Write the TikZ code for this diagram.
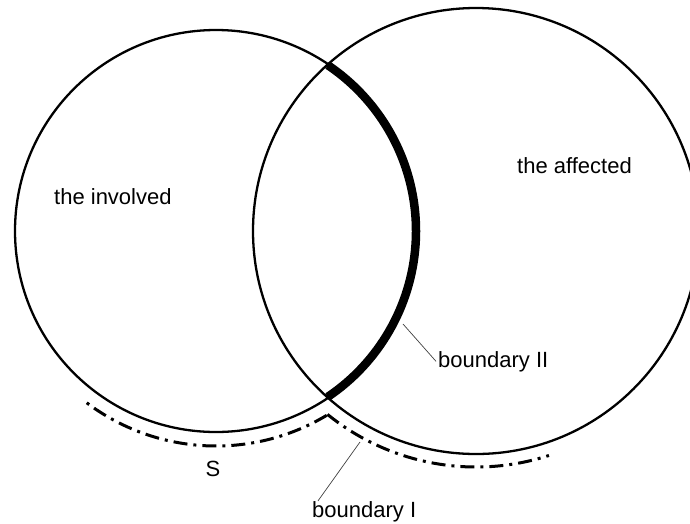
\documentclass[tikz,border=0pt]{standalone}
\usepackage{fontspec}
\setmainfont{Liberation Sans}
\begin{document}
\begin{tikzpicture}[x=1pt,y=-1pt,
  circ/.style={line width=2.3pt},
  thickarc/.style={line width=8.5pt},
  dashdot/.style={line width=3pt, dash pattern=on 14pt off 6pt on 3pt off 6pt},
  leader/.style={line width=0.7pt, black!75},
  lab/.style={inner sep=0pt, font=\fontsize{22}{26}\selectfont}]
\useasboundingbox (0,0) rectangle (690,523);
\clip (0,0) rectangle (690,523);
\coordinate (cL) at (216,231);
\coordinate (cR) at (476,231);
\draw[circ] (cL) circle[radius=201];
\draw[circ] (cR) circle[radius=223];
\draw[thickarc] (cL) ++(-56:200) arc[start angle=-56, end angle=56, radius=200];
\draw[dashdot] (cL) ++(59:215) arc[start angle=59, end angle=128.5, radius=215];
\draw[dashdot] (cR) ++(129:236) arc[start angle=129, end angle=72, radius=236];
\node[lab, anchor=base west] (inv) at (54,204) {the involved};
\node[lab, anchor=base west] (aff) at (517,173) {the affected};
\node[lab, anchor=base west] (b2) at (438,367) {boundary II};
\node[lab, anchor=base] (S) at (213,476) {S};
\node[lab, anchor=base west] (b1) at (312,517) {boundary I};
\coordinate (b2p) at (403,324);
\coordinate (b1p) at (360,442);
\draw[leader] (b2p) -- ([xshift=-2pt]b2.west);
\draw[leader] (b1p) -- ([xshift=6pt]b1.north west);
\end{tikzpicture}
\end{document}
